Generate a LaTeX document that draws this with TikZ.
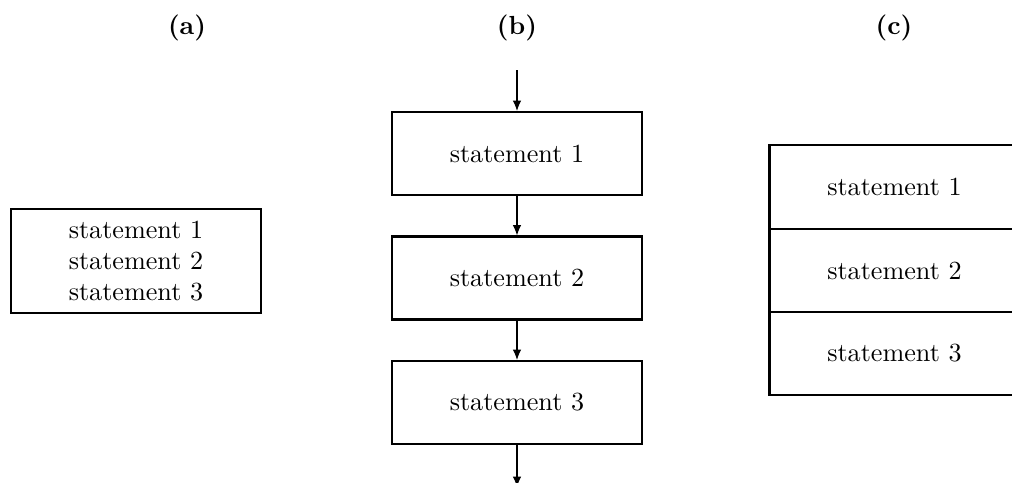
\documentclass[tikz,border=0pt]{standalone}
\usetikzlibrary{arrows.meta}
\newcommand\pxu{0.38241pt}
\tikzset{
  x=0.38241pt, y=-0.38241pt,
  lab/.style={font=\bfseries},
  boxa/.style={draw, line width=0.4pt, minimum width=250*\pxu, minimum height=104*\pxu, align=center, inner sep=0pt},
  boxb/.style={draw, line width=0.8pt, minimum width=250*\pxu, minimum height=83*\pxu, inner sep=0pt},
  cell/.style={draw, line width=0.8pt, minimum width=250*\pxu, inner sep=0pt},
  arr/.style={-{Latex[length=4pt,width=3.3pt]}, line width=0.4pt},
}
\begin{document}
\begin{tikzpicture}
\clip (0,0) rectangle (1012,482);
% labels
\node[lab] (la) at (187,28) {(a)};
\node[lab] (lb) at (517,28) {(b)};
\node[lab] (lc) at (894,28) {(c)};
% (a)
\node[boxa] (a) at (136,261) {statement 1\\statement 2\\statement 3};
% (b)
\coordinate (bin) at (517,70);
\node[boxb] (b1) at (517,153.5) {statement 1};
\node[boxb] (b2) at (517,278) {statement 2};
\node[boxb] (b3) at (517,402.5) {statement 3};
\coordinate (bout) at (517,487);
\draw[arr] (bin) -- (b1.north);
\draw[arr] (b1.south) -- (b2.north);
\draw[arr] (b2.south) -- (b3.north);
\draw[arr] (b3.south) -- (bout);
% (c)
\node[cell, minimum height=84*\pxu] (c1) at (894.5,187) {statement 1};
\node[cell, minimum height=83*\pxu] (c2) at (894.5,270.5) {statement 2};
\node[cell, minimum height=83*\pxu] (c3) at (894.5,353.5) {statement 3};
\end{tikzpicture}
\end{document}
